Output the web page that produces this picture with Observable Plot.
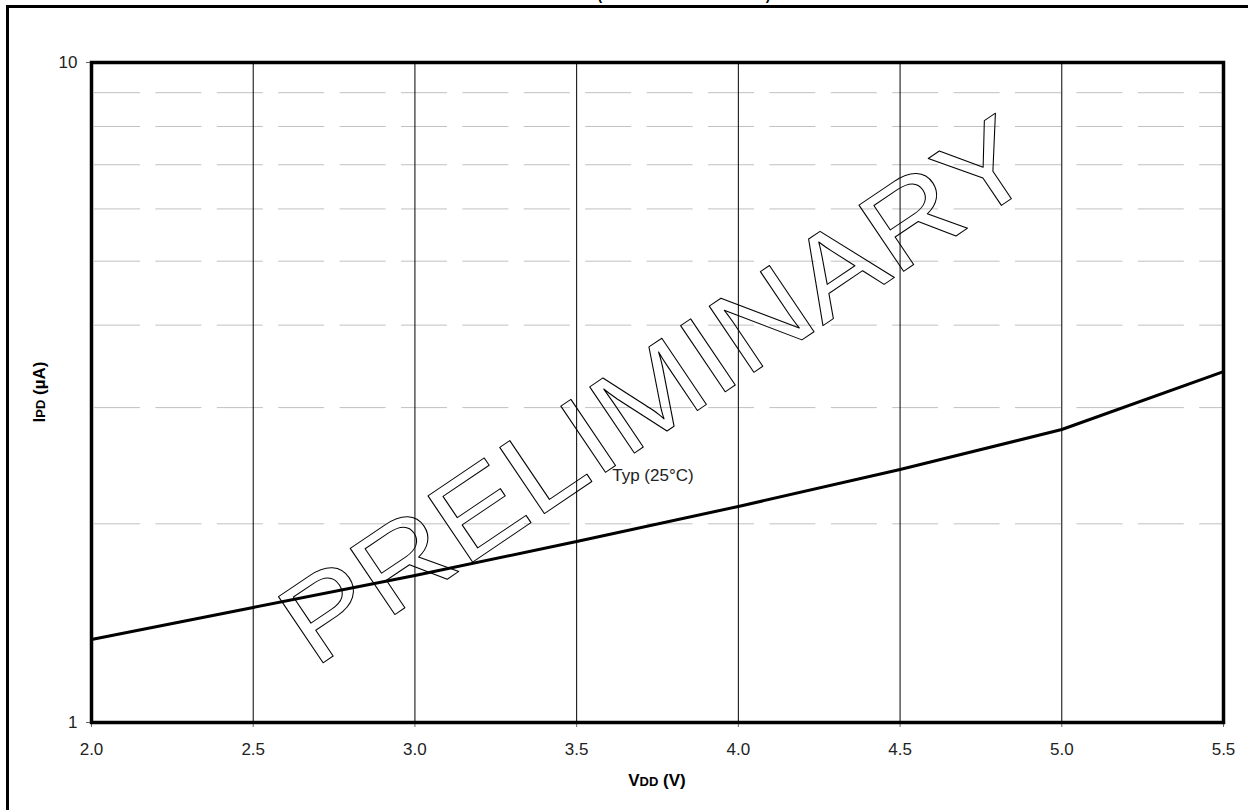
<!DOCTYPE html>
<html><head><meta charset="utf-8">
<script src="https://cdn.jsdelivr.net/npm/d3@7"></script>
<script src="https://cdn.jsdelivr.net/npm/@observablehq/plot@0.6"></script>
<style>
body{margin:0;background:#fff;font-family:Arial,"Liberation Sans",sans-serif;}
#wrap{position:relative;width:1248px;height:810px;overflow:hidden;background:#fff;}
#wrap svg{position:absolute;left:0;top:0;}
#border{position:absolute;left:6px;top:5px;width:1400px;height:1000px;border-left:3px solid #000;border-top:3px solid #000;z-index:2;pointer-events:none;}
</style></head><body><div id="wrap"><div id="border"></div></div>
<script>
// data
const vdd = [2.0, 2.5, 3.0, 3.5, 4.0, 4.5, 5.0, 5.5];
const ipd = [1.336, 1.494, 1.670, 1.880, 2.125, 2.417, 2.779, 3.402];
const xTicks = [2.0, 2.5, 3.0, 3.5, 4.0, 4.5, 5.0, 5.5];
const xGrid = [2.5, 3.0, 3.5, 4.0, 4.5, 5.0];
const yTicks = [1, 10];
const yGrid = [2, 3, 4, 5, 6, 7, 8, 9];
const seriesLabel = "Typ (25°C)";
const seriesLabelAt = {x: 3.61, y: 2.367};
const watermark = "PRELIMINARY";
const titleText = "(WDT DISABLED AT 25°C)";

const rows = vdd.map((v, i) => ({vdd: v, ipd: ipd[i]}));
const FONT = "Arial, 'Liberation Sans', sans-serif";
const W = 1248, H = 810, ML = 91, MR = 25, MT = 62, MB = 88;

const chart = Plot.plot({
  width: W, height: H,
  marginLeft: ML, marginRight: MR, marginTop: MT, marginBottom: MB,
  style: {background: "transparent", fontFamily: FONT, fontSize: "17px", color: "#000"},
  x: {domain: [2, 5.5]},
  y: {type: "log", domain: [1, 10]},
  marks: [
    Plot.ruleY(yGrid, {stroke: "#c0c0c0", strokeWidth: 1, strokeDasharray: "46,15.4", strokeDashoffset: -3}),
    Plot.ruleX(xGrid, {stroke: "#000", strokeWidth: 1}),
    Plot.text([watermark], {text: d => d, frameAnchor: "middle", rotate: -34, fontSize: 116,
      fontFamily: FONT, fill: "none", stroke: "#000", strokeWidth: 1}),
    Plot.line(rows, {x: "vdd", y: "ipd", stroke: "#000", strokeWidth: 3}),
    Plot.text([seriesLabel], {x: () => seriesLabelAt.x, y: () => seriesLabelAt.y, text: d => d,
      textAnchor: "start", lineAnchor: "middle", fontSize: 17, fill: "#222", fontFamily: FONT}),
    Plot.axisX({ticks: xTicks, tickFormat: d3.format(".1f"), tickSize: 5, tickPadding: 15,
      fontSize: 17, stroke: "#666", fill: "#222", label: null}),
    Plot.axisY({ticks: yTicks, tickFormat: d => String(d), tickSize: 5, tickPadding: 9,
      fontSize: 17, stroke: "#666", fill: "#222", label: null}),
    Plot.frame({stroke: "#000", strokeWidth: 3.5})
  ]
});

const svg = d3.select(chart);
// widen the watermark glyphs along their baseline
svg.selectAll("text").filter(function () { return this.textContent === watermark; })
  .each(function () {
    const t = this.getAttribute("transform") || "";
    this.setAttribute("transform", t + " scale(1.12,1)");
  });

// axis titles with small-cap subscripts
const xl = svg.append("text").attr("x", (ML + W - MR) / 2).attr("y", 786)
  .attr("text-anchor", "middle").attr("font-weight", "bold").attr("font-size", 17)
  .attr("font-family", FONT).attr("fill", "#000");
xl.append("tspan").text("V");
xl.append("tspan").attr("font-size", 13).text("DD");
xl.append("tspan").text(" (V)");

const yl = svg.append("text").attr("transform", `translate(45,${(MT + H - MB) / 2}) rotate(-90)`)
  .attr("text-anchor", "middle").attr("font-weight", "bold").attr("font-size", 17)
  .attr("font-family", FONT).attr("fill", "#000");
yl.append("tspan").text("I");
yl.append("tspan").attr("font-size", 13).text("PD");
yl.append("tspan").text(" (µA)");

// title (cut off at the top of the page, as in the source)
svg.append("text").attr("x", 684).attr("y", 0).attr("text-anchor", "middle")
  .attr("font-weight", "bold").attr("font-size", 14).attr("font-family", FONT)
  .attr("fill", "#000").text(titleText);

document.getElementById("wrap").prepend(chart);
</script>
</body></html>
